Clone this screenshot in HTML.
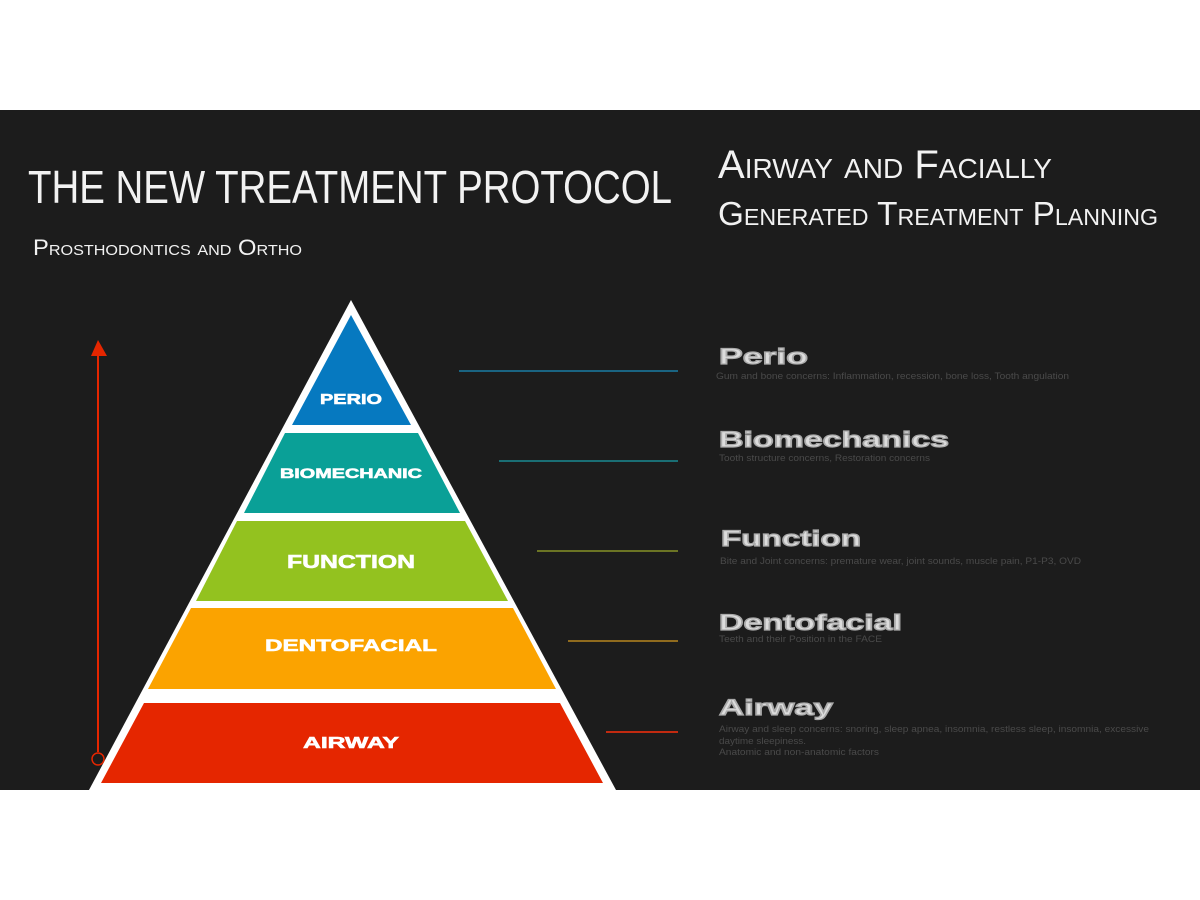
<!DOCTYPE html>
<html><head><meta charset="utf-8"><style>
html,body{margin:0;padding:0;background:#fff;width:1200px;height:900px;overflow:hidden}
svg{display:block}
</style></head><body>
<svg width="1200" height="900" xmlns="http://www.w3.org/2000/svg">
<rect x="0" y="0" width="1200" height="900" fill="#fff"/>
<rect x="0" y="110" width="1200" height="680" fill="#1c1c1c"/>
<g font-family="Liberation Sans, sans-serif" fill="#f2f2f2">
<text x="28" y="203" font-size="46" textLength="644" lengthAdjust="spacingAndGlyphs">THE NEW TREATMENT PROTOCOL</text>
<text x="33" y="255" font-size="22" style="font-variant:small-caps" textLength="269" lengthAdjust="spacingAndGlyphs">Prosthodontics and Ortho</text>
<text x="718" y="178" font-size="40" style="font-variant:small-caps" textLength="334" lengthAdjust="spacingAndGlyphs">Airway and Facially</text>
<text x="718" y="225" font-size="33" style="font-variant:small-caps" textLength="440" lengthAdjust="spacingAndGlyphs">Generated Treatment Planning</text>
</g>
<!-- pyramid -->
<polygon points="351,300 616,790 89,790" fill="#fff"/>
<polygon points="351,315 411,425 292,425" fill="#0679c0"/>
<polygon points="285,433 418,433 460,513 244,513" fill="#0aa097"/>
<polygon points="237,521 465,521 508,601 196,601" fill="#93c21f"/>
<polygon points="191,608 513,608 556,689 148,689" fill="#fba300"/>
<polygon points="144,703 560,703 603,783 101,783" fill="#e52600"/>
<g font-family="Liberation Sans, sans-serif" font-weight="bold" fill="#fff" stroke="#fff" stroke-width="0.6" text-anchor="middle">
<text x="351" y="404" font-size="15" textLength="62" lengthAdjust="spacingAndGlyphs">PERIO</text>
<text x="351" y="478" font-size="14" textLength="142" lengthAdjust="spacingAndGlyphs">BIOMECHANIC</text>
<text x="351" y="568" font-size="18" textLength="128" lengthAdjust="spacingAndGlyphs">FUNCTION</text>
<text x="351" y="651" font-size="17" textLength="172" lengthAdjust="spacingAndGlyphs">DENTOFACIAL</text>
<text x="351" y="748" font-size="16" textLength="96" lengthAdjust="spacingAndGlyphs">AIRWAY</text>
</g>
<!-- red arrow -->
<line x1="98" y1="354" x2="98" y2="752" stroke="#e52600" stroke-width="2"/>
<polygon points="98,340 107,356 91,356" fill="#e52600"/>
<circle cx="98" cy="759" r="6" fill="none" stroke="#e52600" stroke-width="1.5"/>
<!-- connectors -->
<g stroke-width="1.2">
<line x1="459" y1="371" x2="678" y2="371" stroke="#1a8fc0"/>
<line x1="499" y1="461" x2="678" y2="461" stroke="#1aa0a8"/>
<line x1="537" y1="551" x2="678" y2="551" stroke="#9aa82a"/>
<line x1="568" y1="641" x2="678" y2="641" stroke="#d59a20"/>
<line x1="606" y1="732" x2="678" y2="732" stroke="#c22a10" stroke-width="2"/>
</g>
<!-- right labels -->
<g font-family="Liberation Sans, sans-serif" font-weight="bold" fill="#dcdcdc" stroke="#aaa" stroke-width="1.2">
<text x="719" y="364" font-size="22" textLength="89" lengthAdjust="spacingAndGlyphs">Perio</text>
<text x="719" y="447" font-size="22" textLength="230" lengthAdjust="spacingAndGlyphs">Biomechanics</text>
<text x="721" y="546" font-size="22" textLength="140" lengthAdjust="spacingAndGlyphs">Function</text>
<text x="719" y="630" font-size="22" textLength="183" lengthAdjust="spacingAndGlyphs">Dentofacial</text>
<text x="719" y="715" font-size="22" textLength="114" lengthAdjust="spacingAndGlyphs">Airway</text>
</g>
<g font-family="Liberation Sans, sans-serif" fill="#4a4a4a" font-size="9.5">
<text x="716" y="379" textLength="353" lengthAdjust="spacingAndGlyphs">Gum and bone concerns:  Inflammation, recession, bone loss, Tooth angulation</text>
<text x="719" y="461" textLength="211" lengthAdjust="spacingAndGlyphs">Tooth structure concerns, Restoration concerns</text>
<text x="720" y="564" textLength="361" lengthAdjust="spacingAndGlyphs">Bite and Joint concerns: premature wear, joint sounds, muscle pain, P1-P3, OVD</text>
<text x="719" y="642" textLength="163" lengthAdjust="spacingAndGlyphs">Teeth and their Position in the FACE</text>
<text x="719" y="732" textLength="430" lengthAdjust="spacingAndGlyphs">Airway and sleep concerns: snoring, sleep apnea, insomnia, restless sleep, insomnia, excessive</text>
<text x="719" y="744" textLength="87" lengthAdjust="spacingAndGlyphs">daytime sleepiness.</text>
<text x="719" y="755" textLength="160" lengthAdjust="spacingAndGlyphs">Anatomic and non-anatomic factors</text>
</g>
</svg>
</body></html>
